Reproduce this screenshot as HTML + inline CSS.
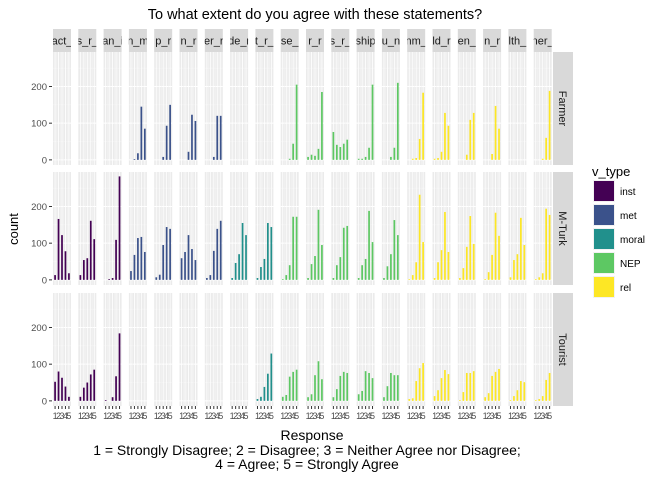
<!DOCTYPE html>
<html><head><meta charset="utf-8"><style>
body{margin:0;background:#fff;font-family:"Liberation Sans",sans-serif}
</style></head><body>
<svg id="chart" width="672" height="480" xmlns="http://www.w3.org/2000/svg" font-family="Liberation Sans, sans-serif"></svg>
<script>
const rows = ["Farmer","M-Turk","Tourist"];
const stripLabels = ["act_","s_r_","an_i","n_m","p_r","n_r","er_r","de_r","t_r_","se_","r_r","s_r_","ship","u_n","nm_","ld_r","en_","n_r","lth_","ner_"];
const colTypes = ["inst","inst","inst","met","met","met","met","moral","moral","NEP","NEP","NEP","NEP","NEP","rel","rel","rel","rel","rel","rel"];
const typeNames = ["inst","met","moral","NEP","rel"];
const typeColors = ["#440154","#3B528B","#21908C","#5DC863","#FDE725"];
const responses = [1,2,3,4,5];
const yTicks = [0,100,200];
const farmer = [
[0,0,0,0,0],[0,0,0,0,0],[0,0,0,0,0],[0,2,18,145,85],[0,0,8,93,150],[0,0,22,123,106],[0,0,8,120,120],[0,0,0,0,0],[0,0,0,0,0],[0,0,3,44,205],
[8,14,11,30,185],[76,41,35,44,55],[3,3,8,33,205],[0,0,8,33,210],[0,3,5,57,183],[3,5,22,128,93],[0,0,14,109,128],[0,0,16,147,85],[0,0,0,0,0],[0,0,3,60,188]];
const mturk = [
[13,166,122,78,18],[13,54,59,161,111],[0,2,5,109,282],[24,68,114,117,76],[7,14,95,144,139],[59,76,122,84,54],[5,13,79,139,161],[5,46,70,155,122],[5,35,57,155,144],[2,13,40,172,172],
[5,43,65,191,95],[5,40,62,142,147],[5,40,57,188,103],[5,37,70,163,122],[2,13,48,232,103],[5,48,81,185,76],[5,32,90,174,98],[2,21,68,183,120],[7,54,70,169,95],[2,7,18,194,177]];
const tourist = [
[52,80,63,39,11],[11,36,50,72,85],[2,0,10,67,184],[0,0,0,0,0],[0,0,0,0,0],[0,0,0,0,0],[0,0,0,0,0],[0,0,0,0,0],[5,11,38,74,129],[11,16,66,79,85],
[10,18,70,108,59],[10,32,68,79,76],[18,27,81,76,62],[10,40,76,70,70],[5,7,54,89,103],[13,29,62,84,73],[2,24,76,76,81],[10,21,68,79,87],[2,13,29,54,51],[2,5,13,57,76]];
const rowData = [farmer, mturk, tourist];

const NS="http://www.w3.org/2000/svg";
const svg=document.getElementById('chart');
function mk(tag,attrs,parent,text){const e=document.createElementNS(NS,tag);for(const k in attrs)e.setAttribute(k,attrs[k]);if(text!==undefined)e.textContent=text;(parent||svg).appendChild(e);return e;}

const px0=53, step=25.3, pw=18;
const rowTop=[52,172,293], ph=113;
const yMin=-14, yMax=294;
function yS(v,r){return rowTop[r]+ph-(v-yMin)/(yMax-yMin)*ph;}
function xS(k,c){return px0+c*step+(k-0.4)/5.2*pw;}

let t=mk('text',{x:315,y:19,'text-anchor':'middle','font-size':14.5,fill:'#000'},svg,'To what extent do you agree with these statements?');


for(let c=0;c<20;c++){
  const x=px0+c*step;
  let s=mk('rect',{x:x,y:29,width:pw,height:23,fill:'#D9D9D9'});
  
  const cp=mk('clipPath',{id:'cp'+c});mk('rect',{x:x,y:29,width:pw,height:23},cp);
  let st=mk('text',{x:x+pw/2,y:44.5,'text-anchor':'middle','font-size':11,fill:'#1A1A1A','clip-path':'url(#cp'+c+')'},svg,stripLabels[c]);
  
}
for(let r=0;r<3;r++){
  let rs=mk('rect',{x:553,y:rowTop[r],width:20,height:ph,fill:'#D9D9D9'});
  
  let rt=mk('text',{x:563,y:rowTop[r]+ph/2,'text-anchor':'middle','font-size':11,fill:'#1A1A1A',transform:'rotate(90 563 '+(rowTop[r]+ph/2)+')',dy:4},svg,rows[r]);
  
  yTicks.forEach(v=>{
    const y=yS(v,r);
    mk('line',{x1:49,x2:52,y1:y,y2:y,stroke:'#333','stroke-width':1});
    let tl=mk('text',{x:47,y:y+3.5,'text-anchor':'end','font-size':9.5,fill:'#4D4D4D'},svg,String(v));
    
  });
  for(let c=0;c<20;c++){
    const x=px0+c*step;
    let p=mk('rect',{x:x,y:rowTop[r],width:pw,height:ph,fill:'#EBEBEB'});
    
    [50,150,250].forEach(v=>mk('line',{x1:x,x2:x+pw,y1:yS(v,r),y2:yS(v,r),stroke:'#F5F5F5','stroke-width':0.5}));
    yTicks.forEach(v=>mk('line',{x1:x,x2:x+pw,y1:yS(v,r),y2:yS(v,r),stroke:'#fff','stroke-width':1}));
    for(let k=1.5;k<5;k++)mk('line',{x1:xS(k,c),x2:xS(k,c),y1:rowTop[r],y2:rowTop[r]+ph,stroke:'#F5F5F5','stroke-width':0.5});
    responses.forEach(k=>mk('line',{x1:xS(k,c),x2:xS(k,c),y1:rowTop[r],y2:rowTop[r]+ph,stroke:'#fff','stroke-width':0.8}));
    const col=typeColors[typeNames.indexOf(colTypes[c])];
    responses.forEach((k,i)=>{
      const v=rowData[r][c][i];
      if(v<=0)return;
      const y0=yS(0,r), y1=yS(v,r);
      let b=mk('rect',{x:xS(k,c)-0.85,y:y1,width:1.7,height:y0-y1,fill:col});
      
    });
  }
}
for(let c=0;c<20;c++){
  responses.forEach(k=>{
    const x=xS(k,c);
    mk('line',{x1:x,x2:x,y1:406,y2:409,stroke:'#333','stroke-width':1});
    let xl=mk('text',{x:x,y:419,'text-anchor':'middle','font-size':9,fill:'#4D4D4D'},svg,String(k));
    
  });
}
let yl=mk('text',{x:0,y:0,'text-anchor':'middle','font-size':13,fill:'#000',transform:'translate(18 229) rotate(-90)'},svg,'count');

let xt=mk('text',{x:312,y:440,'text-anchor':'middle','font-size':14,fill:'#000'},svg,'Response');

let c1=mk('text',{x:307,y:455,'text-anchor':'middle','font-size':14,fill:'#000'},svg,'1 = Strongly Disagree; 2 = Disagree; 3 = Neither Agree nor Disagree;');

let c2=mk('text',{x:307,y:469,'text-anchor':'middle','font-size':14,fill:'#000'},svg,'4 = Agree; 5 = Strongly Agree');

let lt=mk('text',{x:592,y:176,'font-size':13,fill:'#000'},svg,'v_type');

typeNames.forEach((n,i)=>{
  const y=180+i*24;
  let g=mk('g',{});
  
  mk('rect',{x:593,y:y,width:22,height:22,fill:'#F2F2F2'},g);
  mk('rect',{x:594,y:y+1,width:20,height:20,fill:typeColors[i]},g);
  mk('text',{x:620,y:y+15,'font-size':10,fill:'#000'},g,n);
});
</script>
</body></html>
